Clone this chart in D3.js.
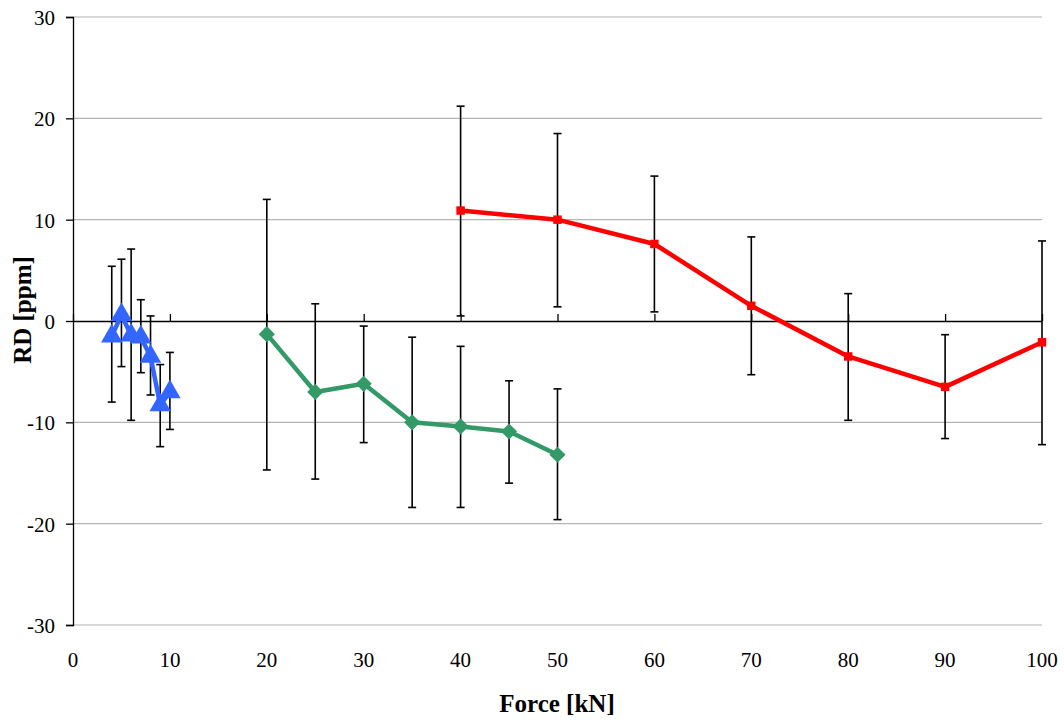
<!DOCTYPE html>
<html>
<head>
<meta charset="utf-8">
<script src="https://d3js.org/d3.v7.min.js"></script>
<style>
body { margin: 0; background: #fff; }
svg text { font-family: "Liberation Serif", "Times New Roman", serif; fill: #000; }
</style>
</head>
<body>
<script>
// series: force [kN], RD [ppm], error bar low / high
var blueX = [4, 5, 6, 7, 8, 9, 10];
var blueY = [-1.5, 0.6, -1.4, -1.6, -3.5, -8.3, -7.0];
var blueLo = [-8.0, -4.5, -9.8, -5.1, -7.3, -12.4, -10.7];
var blueHi = [5.4, 6.1, 7.1, 2.1, 0.5, -4.3, -3.1];

var greenX = [20, 25, 30, 35, 40, 45, 50];
var greenY = [-1.3, -7.0, -6.2, -10.0, -10.4, -10.9, -13.2];
var greenLo = [-14.7, -15.6, -12.0, -18.4, -18.4, -16.0, -19.6];
var greenHi = [12.0, 1.7, -0.5, -1.6, -2.5, -5.9, -6.7];

var redX = [40, 50, 60, 70, 80, 90, 100];
var redY = [10.9, 10.0, 7.6, 1.5, -3.5, -6.5, -2.1];
var redLo = [0.5, 1.4, 0.9, -5.3, -9.8, -11.6, -12.2];
var redHi = [21.2, 18.5, 14.3, 8.3, 2.7, -1.35, 7.9];

var xTicks = [0, 10, 20, 30, 40, 50, 60, 70, 80, 90, 100];
var yTicks = [-30, -20, -10, 0, 10, 20, 30];

var W = 1064, H = 720;
var serif = "'Liberation Serif', 'Times New Roman', serif";
var svg = d3.select("body").append("svg").attr("width", W).attr("height", H);

var x = d3.scaleLinear().domain([0, 100]).range([73, 1042]);
var y = d3.scaleLinear().domain([-30, 30]).range([625, 17]);

// gridlines
svg.append("g").selectAll("line").data(yTicks.filter(function(d){ return d != 0; }))
  .enter().append("line")
  .attr("x1", x(0)).attr("x2", x(100))
  .attr("y1", function(d){ return y(d); }).attr("y2", function(d){ return y(d); })
  .attr("stroke", "#b4b4b4").attr("stroke-width", 1.2);

// y axis
var ya = svg.append("g").attr("transform", "translate(" + x(0) + ",0)")
  .call(d3.axisLeft(y).tickValues(yTicks).tickSize(7).tickPadding(11)
    .tickFormat(function(d){ return String(d); }));
ya.attr("font-family", serif).attr("font-size", 21);
ya.select(".domain").attr("stroke", "#000").attr("stroke-width", 1.3);
ya.selectAll(".tick line").attr("stroke", "#000").attr("stroke-width", 1.3);
ya.selectAll(".tick text").style("font-family", serif).style("font-size", "21px").attr("dy", "0.35em");

// x axis line at zero, ticks pointing up
var xa = svg.append("g").attr("transform", "translate(0," + y(0) + ")")
  .call(d3.axisTop(x).tickValues(xTicks).tickSize(7).tickSizeOuter(0).tickFormat(""));
xa.select(".domain").attr("stroke", "#000").attr("stroke-width", 1.3);
xa.selectAll(".tick line").attr("stroke", "#000").attr("stroke-width", 1.3);

// x tick labels at bottom
svg.append("g").selectAll("text").data(xTicks).enter().append("text")
  .attr("x", function(d){ return x(d); }).attr("y", 667)
  .attr("text-anchor", "middle").style("font-family", serif).style("font-size", "21px")
  .text(function(d){ return d; });

// axis titles
svg.append("text").attr("x", 557).attr("y", 712).attr("text-anchor", "middle")
  .style("font-size", "25px").style("font-weight", "bold").text("Force [kN]");
svg.append("text").attr("transform", "translate(31,310) rotate(-90)")
  .attr("text-anchor", "middle").style("font-size", "25px").style("font-weight", "bold")
  .text("RD [ppm]");

function series(xs, ys, lo, hi, color, shape, size, rot) {
  var pts = xs.map(function(d, i){ return {x: d, y: ys[i], lo: lo[i], hi: hi[i]}; });
  var g = svg.append("g");
  var eb = g.append("g").attr("stroke", "#000").attr("stroke-width", 1.6);
  pts.forEach(function(p){
    eb.append("line").attr("x1", x(p.x)).attr("x2", x(p.x)).attr("y1", y(p.lo)).attr("y2", y(p.hi));
    eb.append("line").attr("x1", x(p.x) - 4).attr("x2", x(p.x) + 4).attr("y1", y(p.lo)).attr("y2", y(p.lo));
    eb.append("line").attr("x1", x(p.x) - 4).attr("x2", x(p.x) + 4).attr("y1", y(p.hi)).attr("y2", y(p.hi));
  });
  g.append("path").datum(pts)
    .attr("d", d3.line().x(function(d){ return x(d.x); }).y(function(d){ return y(d.y); }))
    .attr("fill", "none").attr("stroke", color).attr("stroke-width", 4.5).attr("stroke-linejoin", "round");
  g.selectAll("path.m").data(pts).enter().append("path").attr("class", "m")
    .attr("transform", function(d){ return "translate(" + x(d.x) + "," + y(d.y) + ") rotate(" + (rot || 0) + ")"; })
    .attr("d", d3.symbol().type(shape).size(size))
    .attr("fill", color);
}

series(blueX, blueY, blueLo, blueHi, "#3366ff", d3.symbolTriangle, 200);
series(greenX, greenY, greenLo, greenHi, "#339966", d3.symbolSquare, 130, 45);
series(redX, redY, redLo, redHi, "#ff0000", d3.symbolSquare, 72);
</script>
</body>
</html>
